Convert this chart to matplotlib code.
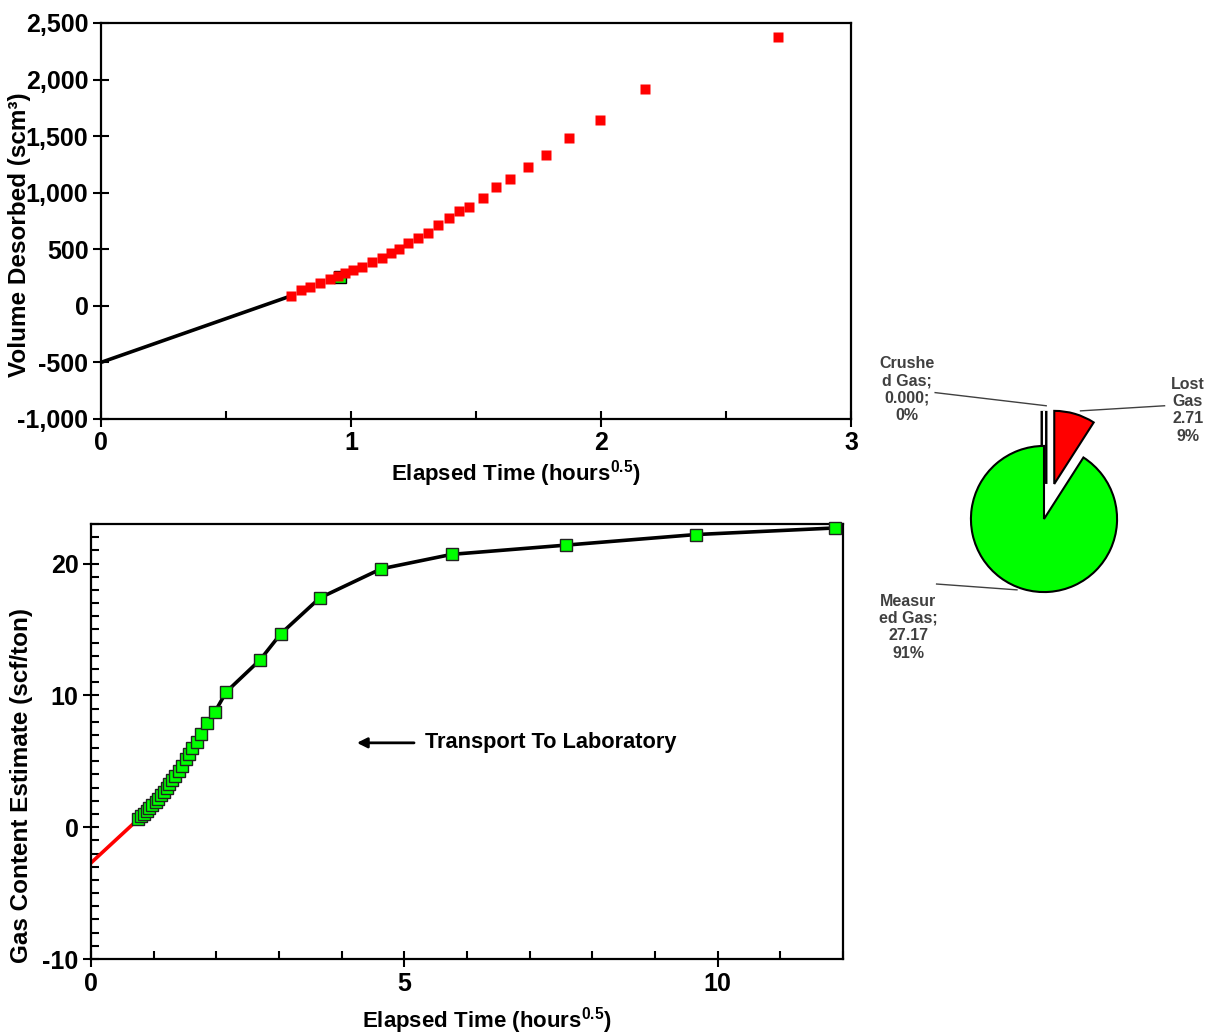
import matplotlib
matplotlib.use("Agg")
import matplotlib.pyplot as plt
import matplotlib.ticker as ticker
import matplotlib.patheffects as pe

plt.rcParams.update({
    "font.family": ["Liberation Sans", "DejaVu Sans"],
    "font.weight": "bold",
    "font.size": 14,
    "axes.labelweight": "bold",
    "axes.linewidth": 1.6,
    "axes.unicode_minus": False,
    "mathtext.fontset": "custom",
    "mathtext.rm": "Liberation Sans:bold",
    "mathtext.bf": "Liberation Sans:bold",
})

# ── data ────────────────────────────────────────────────────────────────────
# top: desorbed volume vs sqrt time
t_des = [0.76, 0.80, 0.836, 0.876, 0.916, 0.948, 0.976, 1.008, 1.044, 1.084,
         1.124, 1.16, 1.192, 1.228, 1.268, 1.308, 1.348, 1.392, 1.432, 1.472,
         1.528, 1.58, 1.636, 1.708, 1.78, 1.872, 1.996, 2.176, 2.708]
v_des = [88, 142, 168, 203, 239, 265, 292, 318, 345, 389,
         424, 469, 504, 557, 601, 645, 716, 778, 840, 875,
         955, 1052, 1123, 1229, 1335, 1485, 1644, 1918, 2377]
fit_t = [0.956]
fit_v = [256]
lost_t = [0.0, 0.76]
lost_v = [-500, 88]

# bottom: gas content estimate
t_gc = [0.75, 0.80, 0.85, 0.89, 0.93, 0.98, 1.03, 1.07, 1.12, 1.16,
        1.21, 1.25, 1.30, 1.34, 1.40, 1.45, 1.52, 1.56, 1.62, 1.69,
        1.76, 1.85, 1.98, 2.16, 2.70, 3.03, 3.65, 4.63, 5.76, 7.58,
        9.65, 11.87]
gc = [0.59, 0.84, 1.04, 1.24, 1.44, 1.67, 1.90, 2.15, 2.43, 2.68,
      2.97, 3.25, 3.57, 3.88, 4.28, 4.64, 5.15, 5.53, 5.98, 6.49,
      7.07, 7.89, 8.77, 10.27, 12.70, 14.68, 17.39, 19.6, 20.7, 21.4,
      22.2, 22.7]
lost_gc_t = [0.0, 0.75]
lost_gc = [-2.71, 0.59]

# pie (clockwise from 12 o'clock)
pie_labels = ["Crushe\nd Gas;\n0.000;\n0%", "Lost\nGas\n2.71\n9%",
              "Measur\ned Gas;\n27.17\n91%"]
pie_vals = [0.0, 2.71, 27.17]
pie_colors = ["white", "#ff0000", "#00ff00"]

fig = plt.figure(figsize=(12.08, 10.35), dpi=100)


def style_axes(ax):
    ax.tick_params(which="major", direction="inout", length=12, width=1.5,
                   labelsize=18, pad=3)
    ax.tick_params(which="minor", direction="in", length=6, width=1.5)
    for lab in ax.get_xticklabels() + ax.get_yticklabels():
        lab.set_fontweight("bold")


XLAB = "Elapsed Time (hours$^{0.5}$)"

# ── top panel ───────────────────────────────────────────────────────────────
ax1 = fig.add_axes([0.0836, 0.5952, 0.6209, 0.3826])
ax1.plot(lost_t, lost_v, color="black", lw=2.6, zorder=2)
ax1.plot(fit_t, fit_v, "s", color="#00ff00", mec="black", mew=1.0, ms=8,
         zorder=3)
ax1.plot(t_des, v_des, "s", color="#ff0000", mec="none", ms=7.5, zorder=4)
ax1.set_xlim(0, 3)
ax1.set_ylim(-1000, 2500)
ax1.set_xticks([0, 1, 2, 3])
ax1.xaxis.set_minor_locator(ticker.MultipleLocator(0.5))
ax1.set_yticks(range(-1000, 2501, 500))
ax1.yaxis.set_major_formatter(ticker.StrMethodFormatter("{x:,.0f}"))
ax1.set_xlabel(XLAB, fontsize=16)
ax1.set_ylabel("Volume Desorbed (scm³)", fontsize=17.5)
ax1.xaxis.set_label_coords(0.553, -0.100)
ax1.yaxis.set_label_coords(-0.093, 0.465)
style_axes(ax1)

# ── bottom panel ────────────────────────────────────────────────────────────
ax2 = fig.add_axes([0.0753, 0.0734, 0.6225, 0.4203])
ax2.plot(lost_gc_t, lost_gc, color="#ff0000", lw=2.6, zorder=2)
ax2.plot(t_gc, gc, "-", color="black", lw=2.6, zorder=2)
ax2.plot(t_gc, gc, "s", color="#00ff00", mec="#222222", mew=1.0, ms=8.5,
         zorder=3, clip_on=False)
ax2.set_xlim(0, 12)
ax2.set_ylim(-10, 23)
ax2.set_xticks([0, 5, 10])
ax2.xaxis.set_minor_locator(ticker.MultipleLocator(1))
ax2.set_yticks([-10, 0, 10, 20])
ax2.yaxis.set_minor_locator(ticker.MultipleLocator(1))
ax2.set_xlabel(XLAB, fontsize=16)
ax2.set_ylabel("Gas Content Estimate (scf/ton)", fontsize=17.5)
ax2.xaxis.set_label_coords(0.527, -0.105)
ax2.yaxis.set_label_coords(-0.077, 0.398)
style_axes(ax2)

ax2.annotate("", xy=(4.2, 6.4), xytext=(5.2, 6.4),
             arrowprops=dict(arrowstyle="-|>", color="black", lw=2,
                             mutation_scale=15))
ax2.text(5.33, 6.4, "Transport To Laboratory", ha="left", va="center",
         fontsize=15.7, fontweight="bold")

# ── pie ─────────────────────────────────────────────────────────────────────
ax3 = fig.add_axes([884 / 1208, 1 - 679 / 1035, 320 / 1208, 320 / 1035])
wedges, _ = ax3.pie(pie_vals, colors=pie_colors, startangle=90,
                    counterclock=False, explode=[0.48, 0.5, 0.0],
                    wedgeprops=dict(edgecolor="black", linewidth=1.5))
# zero slice: draw its edge as a double line like the original
wedges[0].set_edgecolor("white")
wedges[0].set_linewidth(1.5)
wedges[0].set_path_effects([pe.Stroke(linewidth=5, foreground="black"),
                            pe.Normal()])
ax3.set_xlim(-2.19, 2.19)
ax3.set_ylim(-2.19, 2.19)
ax3.set_aspect("equal")
ax3.axis("off")

lab_pos = [(-1.88, 1.77), (1.97, 1.49), (-1.86, -1.48)]
lead = [((-1.49, 1.73), (0.03, 1.55)),
        ((1.65, 1.55), (0.50, 1.48)),
        ((-1.47, -0.89), (-0.37, -0.97))]
for lab, (x, y), (p0, p1) in zip(pie_labels, lab_pos, lead):
    ax3.text(x, y, lab, ha="center", va="center", fontsize=11.5,
             fontweight="bold", color="#404040", linespacing=1.2,
             clip_on=False)
    ax3.plot([p0[0], p1[0]], [p0[1], p1[1]], color="#404040", lw=1,
             clip_on=False)

fig.savefig("out.png", dpi=100)
